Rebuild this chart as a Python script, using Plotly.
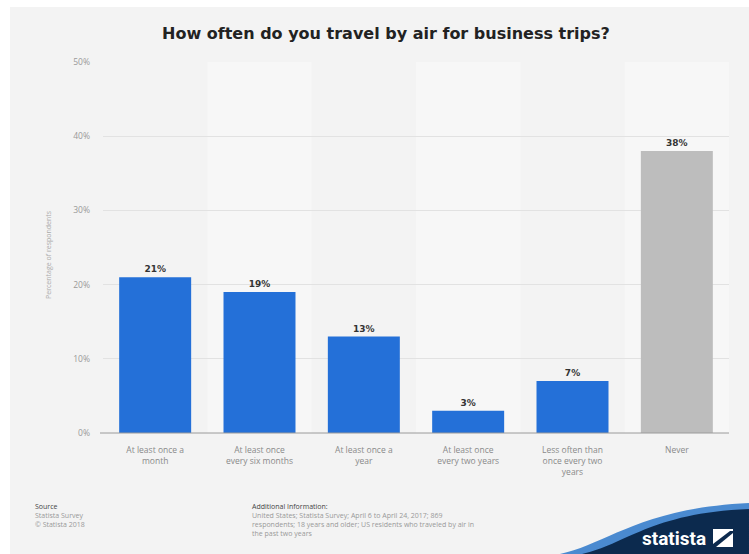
import plotly.graph_objects as go

categories = ["At least once a<br>month", "At least once<br>every six months", "At least once a<br>year",
              "At least once<br>every two years", "Less often than<br>once every two<br>years", "Never"]
values = [21, 19, 13, 3, 7, 38]
labels = ["21%", "19%", "13%", "3%", "7%", "38%"]
colors = ["#2470d8"] * 5 + ["#bdbdbd"]
y_ticks = [0, 10, 20, 30, 40, 50]
y_ticktext = ["0%", "10%", "20%", "30%", "40%", "50%"]

W, H = 749, 554
L, R, T, B = 103, 20, 62, 121
PW, PH = W - L - R, H - T - B

def px(x):
    return (x - L) / PW

def py(y):
    return (H - B - y) / PH

fig = go.Figure()
fig.add_trace(go.Bar(
    x=categories, y=values, marker_color=colors, marker_line_width=0,
    text=["<b>" + t + "</b>" for t in labels], textposition="outside", cliponaxis=False,
    textfont=dict(family="DejaVu Sans", size=9, color="#333333"),
    hoverinfo="skip"))

shapes = []
shapes.append(dict(type="rect", xref="paper", yref="paper", x0=px(10), x1=px(W), y0=py(H), y1=py(7),
                   fillcolor="#f3f3f3", line_width=0, layer="below"))
for i in [1, 3, 5]:
    shapes.append(dict(type="rect", xref="x", yref="paper", x0=i - 0.5, x1=i + 0.5, y0=0, y1=1,
                       fillcolor="#f7f7f7", line_width=0, layer="below"))
shapes.append(dict(type="line", xref="paper", yref="paper", x0=px(100), x1=1.0, y0=0, y1=0,
                   line=dict(color="#9a9a9a", width=1)))

def path(points):
    s = ""
    for cmd, coords in points:
        for a, b in coords:
            s += f"{cmd} {px(a):.4f},{py(b):.4f} "
    return s + "Z"

def cpath(start, c, end_pts):
    s = f"M {px(start[0]):.4f},{py(start[1]):.4f} C "
    s += " ".join(f"{px(a):.4f},{py(b):.4f}" for a, b in c) + " "
    for a, b in end_pts:
        s += f"L {px(a):.4f},{py(b):.4f} "
    return s + "Z"

shapes.append(dict(type="path", xref="paper", yref="paper",
                   path=cpath((560, 554), [(605, 545), (640, 508), (749, 503)], [(749, 554)]),
                   fillcolor="#4a8ad0", line_width=0))
shapes.append(dict(type="path", xref="paper", yref="paper",
                   path=cpath((582, 554), [(625, 545), (650, 513), (749, 509)], [(749, 554)]),
                   fillcolor="#0c2a4e", line_width=0))
shapes.append(dict(type="rect", xref="paper", yref="paper", x0=px(713), x1=px(733), y0=py(547), y1=py(529),
                   fillcolor="white", line_width=0))
shapes.append(dict(type="path", xref="paper", yref="paper",
                   path=path([("M", [(713, 544)]), ("L", [(730, 531), (733, 531), (733, 533), (716, 547), (713, 547)])]),
                   fillcolor="#0c2a4e", line_width=0))

annotations = [
    dict(text="<b>How often do you travel by air for business trips?</b>", x=px(386), y=py(33),
         xref="paper", yref="paper", showarrow=False, xanchor="center", yanchor="middle",
         font=dict(family="DejaVu Sans", size=16, color="#222222")),
    dict(text="Percentage of respondents", x=px(48), y=py(255), xref="paper", yref="paper",
         showarrow=False, textangle=-90, xanchor="center", yanchor="middle",
         font=dict(family="Open Sans", size=7, color="#aaaaaa")),
    dict(text="Source<br><span style='color:#999999'>Statista Survey<br>© Statista 2018</span>",
         x=px(33), y=py(500), xref="paper", yref="paper", showarrow=False, xanchor="left", yanchor="top",
         align="left", font=dict(family="Open Sans", size=7, color="#444444")),
    dict(text="Additional Information:<br><span style='color:#999999'>United States; Statista Survey; April 6 to April 24, 2017; 869<br>"
              "respondents; 18 years and older; US residents who traveled by air in<br>the past two years</span>",
         x=px(250), y=py(500), xref="paper", yref="paper", showarrow=False, xanchor="left", yanchor="top",
         align="left", font=dict(family="Open Sans", size=7, color="#444444")),
    dict(text="<b>statista</b>", x=px(708), y=py(538), xref="paper", yref="paper", showarrow=False,
         xanchor="right", yanchor="middle", font=dict(family="Roboto", size=19, color="white")),
]

fig.update_layout(
    width=W, height=H, margin=dict(l=L, r=R, t=T, b=B),
    paper_bgcolor="white", plot_bgcolor="rgba(0,0,0,0)",
    bargap=0.31, showlegend=False, shapes=shapes, annotations=annotations,
    xaxis=dict(tickfont=dict(family="Open Sans", size=8.5, color="#8a8a8a"), showgrid=False,
               showline=False, ticks="", fixedrange=True, ticklabelstandoff=10),
    yaxis=dict(range=[0, 50], tickvals=y_ticks, ticktext=y_ticktext, showgrid=True, gridcolor="#e2e2e2",
               gridwidth=1, zeroline=False, tickfont=dict(family="Open Sans", size=8.5, color="#999999"),
               ticks="", ticklabelstandoff=12),
)

fig.write_html("out.html")
